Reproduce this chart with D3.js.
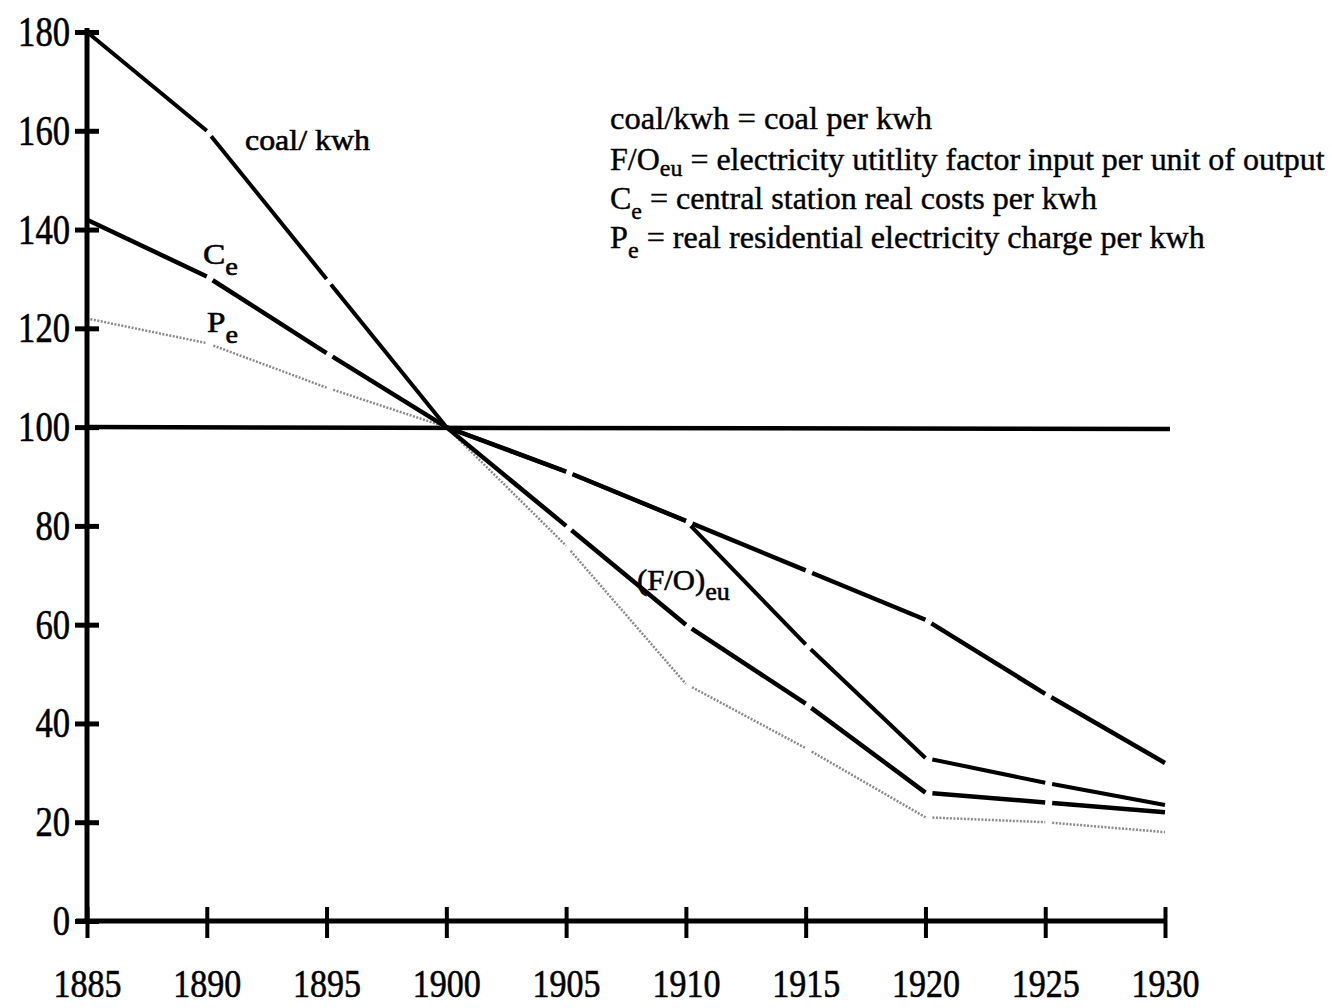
<!DOCTYPE html>
<html>
<head>
<meta charset="utf-8">
<script src="https://cdn.jsdelivr.net/npm/d3@7"></script>
<style>
  body { margin: 0; background: #fff; }
  text { font-family: "Liberation Serif", "Times New Roman", serif; fill: #000; }
</style>
</head>
<body>
<div id="chart"></div>
<script>
// data (index, 1900 = 100)
const years = [1885, 1890, 1895, 1900, 1905, 1910, 1915, 1920, 1925, 1930];
const yTicks = [0, 20, 40, 60, 80, 100, 120, 140, 160, 180];
const coalKwh = [180, 160, 130, 100, 91, 81, 56, 33, 28, 23.5];
const foEu = [null, null, null, 100, 91, 81, 71, 61, 46, 32];
const ce = [142, 130.5, 115, 100, 80, 60, 44, 26, 24, 22];
const pe = [122, 117, 108, 100, 76, 48, 35, 21, 20, 18];
const baseLine = 100;

const legendLines = [
  { main: "coal/kwh", sub: "", rest: "  = coal per kwh" },
  { main: "F/O", sub: "eu", rest: " = electricity utitlity factor input per unit of output" },
  { main: "C", sub: "e", rest: "  = central station real costs per kwh" },
  { main: "P", sub: "e", rest: "  = real residential electricity charge per kwh" }
];

const width = 1332, height = 1008;

const svg = d3.select("#chart")
  .append("svg")
  .attr("width", width)
  .attr("height", height);

const x = d3.scaleLinear().domain([1885, 1930]).range([87, 1165]);
const y = d3.scaleLinear().domain([0, 180]).range([921, 32]);

// reference line at 100
svg.append("line")
  .attr("x1", x(1885)).attr("x2", x(1930) + 5)
  .attr("y1", y(baseLine)).attr("y2", y(baseLine) + 2)
  .attr("stroke", "#000").attr("stroke-width", 4.5);

// series drawn segment by segment, with a small break after each interior point
const seriesList = [
  { values: pe, color: "#8a8a8a", width: 2.5, dash: "2,1.5" },
  { values: ce, color: "#000", width: 4.5, dash: null },
  { values: foEu, color: "#000", width: 4.5, dash: null },
  { values: coalKwh, color: "#000", width: 4, dash: null }
];

const gap = 7;
seriesList.forEach(s => {
  const pts = years.map((yr, i) => ({ yr: yr, v: s.values[i], i: i }))
    .filter(d => d.v != null);
  const segs = d3.pairs(pts);
  svg.append("g")
    .selectAll("line")
    .data(segs)
    .enter()
    .append("line")
    .each(function (pair) {
      const a = pair[0], b = pair[1];
      let x1 = x(a.yr), y1 = y(a.v);
      const x2 = x(b.yr), y2 = y(b.v);
      if (a.i > 0 && a.yr !== 1900) {
        const len = Math.hypot(x2 - x1, y2 - y1);
        x1 += (x2 - x1) / len * gap;
        y1 += (y2 - y1) / len * gap;
      }
      d3.select(this)
        .attr("x1", x1).attr("y1", y1)
        .attr("x2", x2).attr("y2", y2);
    })
    .attr("stroke", s.color)
    .attr("stroke-width", s.width)
    .attr("stroke-dasharray", s.dash)
    .attr("stroke-linecap", "butt");
});

// Y axis
const yAxis = svg.append("g")
  .attr("transform", "translate(" + x(1885) + ",0)")
  .call(d3.axisLeft(y).tickValues(yTicks).tickSize(0).tickPadding(17).tickFormat(d3.format("d")));
yAxis.select(".domain").remove();
yAxis.selectAll(".tick line")
  .attr("x1", -12).attr("x2", 12)
  .attr("stroke", "#000").attr("stroke-width", 5);
yAxis.selectAll(".tick text")
  .attr("font-size", 42)
  .attr("fill", "#000")
  .attr("stroke", "#000").attr("stroke-width", 0.6)
  .attr("textLength", d => String(d).length * 17.3)
  .attr("lengthAdjust", "spacingAndGlyphs");
svg.append("line")
  .attr("x1", x(1885)).attr("x2", x(1885))
  .attr("y1", y(180) - 4).attr("y2", y(0))
  .attr("stroke", "#000").attr("stroke-width", 5);

// X axis
const xAxis = svg.append("g")
  .attr("transform", "translate(0," + y(0) + ")")
  .call(d3.axisBottom(x).tickValues(years).tickSize(0).tickPadding(48).tickFormat(d3.format("d")));
xAxis.select(".domain").remove();
xAxis.selectAll(".tick line")
  .attr("y1", -14).attr("y2", 17)
  .attr("stroke", "#000").attr("stroke-width", 4);
xAxis.selectAll(".tick text")
  .attr("font-size", 39)
  .attr("fill", "#000")
  .attr("stroke", "#000").attr("stroke-width", 0.6)
  .attr("textLength", 68)
  .attr("lengthAdjust", "spacingAndGlyphs");
xAxis.append("line")
  .attr("x1", x(1885) - 11).attr("x2", x(1930))
  .attr("y1", 0).attr("y2", 0)
  .attr("stroke", "#000").attr("stroke-width", 5);

// squeeze a text group to a target width (the original type is condensed)
function fitText(g, px, py, target) {
  const w = g.node().getBBox().width;
  g.attr("transform", "translate(" + px + "," + py + ") scale(" + (target / w) + ",1)");
}

function subLabel(px, py, main, sub, target, size, subDy) {
  const g = svg.append("g");
  const t = g.append("text")
    .attr("font-size", size)
    .attr("stroke", "#000").attr("stroke-width", 0.6);
  t.append("tspan").text(main);
  if (sub) {
    t.append("tspan")
      .attr("dy", subDy)
      .attr("font-size", size * 0.85)
      .text(sub);
  }
  fitText(g, px, py, target);
  return t;
}

// labels on the lines
subLabel(245, 150, "coal/ kwh", "", 125, 30, 0);
subLabel(203, 264, "C", "e", 35, 30, 11);
subLabel(207, 332, "P", "e", 31, 30, 11);
subLabel(637, 590, "(F/O)", "eu", 93, 30, 10);

// legend
const legendY = [129, 170, 209, 248];
const legendW = [322, 715, 487, 595];
legendLines.forEach((d, i) => {
  const g = svg.append("g");
  const t = g.append("text")
    .attr("font-size", 32)
    .attr("stroke", "#000").attr("stroke-width", 0.4);
  t.append("tspan").text(d.main);
  if (d.sub) {
    t.append("tspan")
      .attr("dy", d.sub === "eu" ? 6 : 10)
      .attr("font-size", 24)
      .text(d.sub);
    t.append("tspan")
      .attr("dy", d.sub === "eu" ? -6 : -10)
      .text(d.rest);
  } else {
    t.append("tspan").text(d.rest);
  }
  fitText(g, 610, legendY[i], legendW[i]);
});
</script>
</body>
</html>
